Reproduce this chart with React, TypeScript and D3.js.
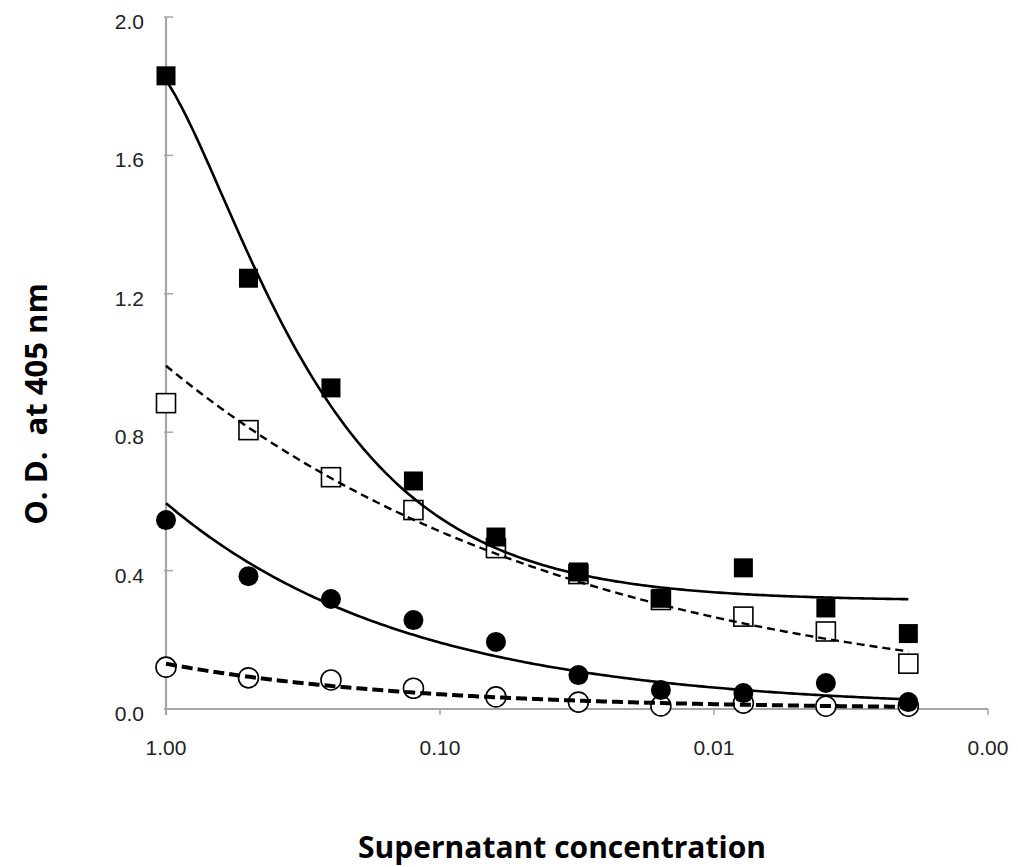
import React from 'react';
import * as d3 from 'd3';

// Supernatant dilution series (two-fold)
const concentrations = [1, 0.5, 0.25, 0.125, 0.0625, 0.03125, 0.015625, 0.0078125, 0.00390625, 0.001953125];
// O.D. at 405 nm per series
const filledSquareOD = [1.83, 1.245, 0.928, 0.659, 0.497, 0.396, 0.32, 0.408, 0.292, 0.218];
const openSquareOD = [0.884, 0.806, 0.67, 0.575, 0.465, 0.39, 0.315, 0.267, 0.224, 0.131];
const filledCircleOD = [0.546, 0.384, 0.318, 0.257, 0.194, 0.098, 0.055, 0.046, 0.075, 0.02];
const openCircleOD = [0.121, 0.09, 0.084, 0.06, 0.035, 0.02, 0.009, 0.017, 0.008, 0.008];

const xTickValues = [1, 0.1, 0.01, 0.001];
const yTickValues = [0, 0.4, 0.8, 1.2, 1.6, 2.0];

const xTitle = 'Supernatant concentration';
const yTitle = 'O. D.  at 405 nm';

// Excel-style trendline fits
function powerFit(xs: number[], ys: number[]) {
  const lx = xs.map(Math.log);
  const ly = ys.map(Math.log);
  const mx = d3.mean(lx)!;
  const my = d3.mean(ly)!;
  let sxy = 0, sxx = 0;
  lx.forEach((v, i) => { sxy += (v - mx) * (ly[i] - my); sxx += (v - mx) * (v - mx); });
  const b = sxy / sxx;
  const a = Math.exp(my - b * mx);
  return (x: number) => a * Math.pow(x, b);
}

function polyFit(xs: number[], ys: number[], order: number) {
  const n = order + 1;
  const M: number[][] = [];
  for (let r = 0; r < n; r++) {
    const row: number[] = [];
    for (let c = 0; c < n; c++) row.push(d3.sum(xs, (x) => Math.pow(x, r + c)));
    row.push(d3.sum(xs, (x, i) => Math.pow(x, r) * ys[i]));
    M.push(row);
  }
  for (let i = 0; i < n; i++) {
    let p = i;
    for (let k = i + 1; k < n; k++) if (Math.abs(M[k][i]) > Math.abs(M[p][i])) p = k;
    [M[i], M[p]] = [M[p], M[i]];
    for (let k = i + 1; k < n; k++) {
      const f = M[k][i] / M[i][i];
      for (let c = i; c <= n; c++) M[k][c] -= f * M[i][c];
    }
  }
  const coef = new Array(n).fill(0);
  for (let i = n - 1; i >= 0; i--) {
    let s = M[i][n];
    for (let c = i + 1; c < n; c++) s -= M[i][c] * coef[c];
    coef[i] = s / M[i][i];
  }
  return (x: number) => coef.reduce((acc, c, i) => acc + c * Math.pow(x, i), 0);
}

export default function App() {
  const W = 1018, H = 867;
  const x = d3.scaleLog().domain([1, 0.001]).range([166, 988]);
  const y = d3.scaleLinear().domain([0, 2]).range([709, 17]);

  const xmin = d3.min(concentrations)!;
  const xmax = d3.max(concentrations)!;
  const samples = d3.range(241).map((i) =>
    Math.pow(10, Math.log10(xmax) + (Math.log10(xmin) - Math.log10(xmax)) * (i / 240))
  );
  const line = (f: (v: number) => number) =>
    d3.line<number>().x((v) => x(v)).y((v) => y(f(v)))(samples) || '';

  const fitA = polyFit(concentrations, filledSquareOD, 2);
  const fitB = powerFit(concentrations, openSquareOD);
  const fitC = powerFit(concentrations, filledCircleOD);
  const fitD = powerFit(concentrations, openCircleOD);

  const axisColor = '#a6a6a6';
  const sq = 19;
  const r = 10;

  return (
    <svg width={W} height={H} style={{ position: 'absolute', left: 0, top: 0, background: '#fff' }}>
      {/* axes */}
      <line x1={x(1)} x2={x(0.001)} y1={y(0)} y2={y(0)} stroke={axisColor} strokeWidth={2.2} />
      <line x1={x(1)} x2={x(1)} y1={y(0) + 6} y2={y(2)} stroke={axisColor} strokeWidth={2.2} />
      {xTickValues.map((t) => (
        <g key={'xt' + t}>
          <line x1={x(t)} x2={x(t)} y1={y(0)} y2={y(0) + 6} stroke={axisColor} strokeWidth={1.5} />
          <text x={x(t)} y={755} textAnchor="middle" fontFamily="Liberation Sans, Arial, sans-serif" fontSize={21} fill="#222">
            {t.toFixed(2)}
          </text>
        </g>
      ))}
      {yTickValues.map((t) => (
        <g key={'yt' + t}>
          <line x1={x(1) - 2} x2={x(1) + 7} y1={y(t)} y2={y(t)} stroke={axisColor} strokeWidth={1.5} />
          <text x={144} y={y(t) + 12} textAnchor="end" fontFamily="Liberation Sans, Arial, sans-serif" fontSize={21} fill="#222">
            {t.toFixed(1)}
          </text>
        </g>
      ))}

      {/* markers */}
      {concentrations.map((c, i) => (
        <circle key={'oc' + i} cx={x(c)} cy={y(openCircleOD[i])} r={r} fill="#fff" stroke="#000" strokeWidth={1.6} />
      ))}
      {concentrations.map((c, i) => (
        <circle key={'fc' + i} cx={x(c)} cy={y(filledCircleOD[i])} r={r} fill="#000" />
      ))}
      {concentrations.map((c, i) => (
        <rect key={'os' + i} x={x(c) - sq / 2} y={y(openSquareOD[i]) - sq / 2} width={sq} height={sq} fill="#fff" stroke="#000" strokeWidth={1.6} />
      ))}
      {concentrations.map((c, i) => (
        <rect key={'fs' + i} x={x(c) - sq / 2} y={y(filledSquareOD[i]) - sq / 2} width={sq} height={sq} fill="#000" />
      ))}

      {/* trendlines */}
      <path d={line(fitA)} fill="none" stroke="#000" strokeWidth={2.6} />
      <path d={line(fitB)} fill="none" stroke="#000" strokeWidth={2.4} strokeDasharray="8 5" />
      <path d={line(fitC)} fill="none" stroke="#000" strokeWidth={2.6} />
      <path d={line(fitD)} fill="none" stroke="#000" strokeWidth={4} strokeDasharray="11 5" />

      {/* titles */}
      <text x={562} y={858} textAnchor="middle" fontFamily="Open Sans, sans-serif" fontWeight="bold" fontSize={30} fill="#000">
        {xTitle}
      </text>
      <text transform="translate(47,404) rotate(-90)" textAnchor="middle" fontFamily="Open Sans, sans-serif" fontWeight="bold" fontSize={31} fill="#000" style={{ whiteSpace: 'pre' }}>
        {yTitle}
      </text>
    </svg>
  );
}
